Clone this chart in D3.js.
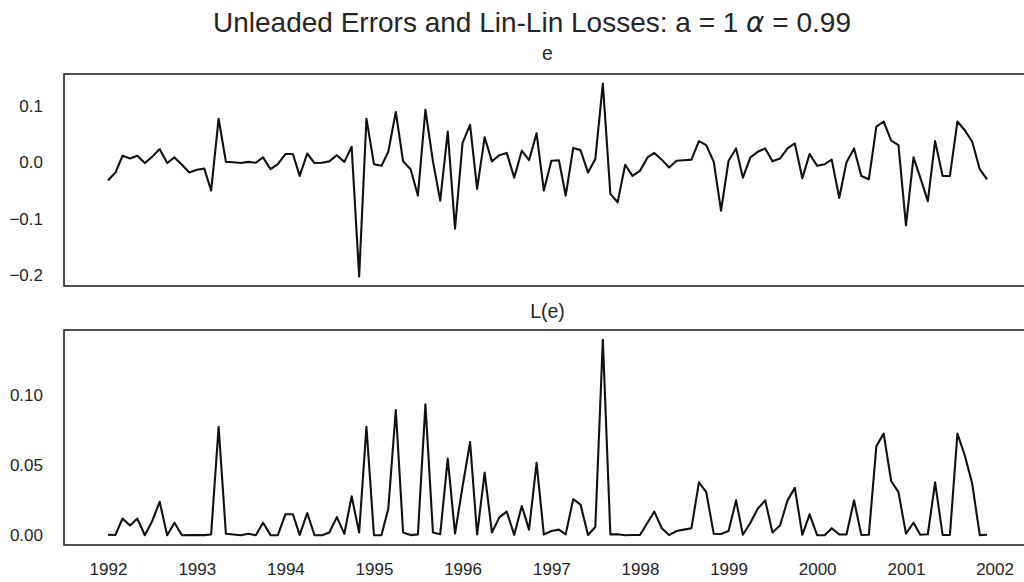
<!DOCTYPE html>
<html>
<head>
<meta charset="utf-8">
<script src="https://cdn.jsdelivr.net/npm/d3@7"></script>
<style>
  html, body { margin: 0; padding: 0; background: #fff; overflow: hidden; }
  svg { display: block; font-family: "Liberation Sans", Arial, sans-serif; }
</style>
</head>
<body>
<svg id="chart" width="1024" height="582"></svg>
<script>
// Monthly forecast errors, Jan 1992 .. Dec 2001
const startYear = 1992;
const startMonth = 0;

const errors = [
  -0.032, -0.018, 0.012, 0.007, 0.012, -0.001, 0.010, 0.024, -0.001, 0.009, -0.004, -0.018,
  -0.013, -0.011, -0.050, 0.078, 0.001, 0.0005, -0.001, 0.001, -0.0005, 0.009, -0.012, -0.003,
  0.015, 0.015, -0.024, 0.016, -0.001, -0.0005, 0.002, 0.013, 0.001, 0.028, -0.203, 0.078,
  -0.003, -0.006, 0.019, 0.090, 0.002, -0.012, -0.059, 0.094, 0.002, -0.068, 0.055, -0.118,
  0.035, 0.067, -0.047, 0.045, 0.002, 0.013, 0.017, -0.027, 0.021, 0.004, 0.052, -0.050,
  0.003, 0.004, -0.059, 0.026, 0.022, -0.018, 0.006, 0.1405, -0.056, -0.071, -0.004, -0.024,
  -0.015, 0.009, 0.017, 0.005, -0.009, 0.003, 0.004, 0.005, 0.038, 0.031, 0.001, -0.086,
  0.003, 0.025, -0.027, 0.009, 0.019, 0.025, 0.002, 0.007, 0.025, 0.034, -0.028, 0.015,
  -0.006, -0.003, 0.005, -0.063, 0.0005, 0.025, -0.024, -0.030, 0.064, 0.073, 0.039, 0.031,
  -0.112, 0.009, -0.027, -0.069, 0.038, -0.024, -0.024, 0.073, 0.057, 0.037, -0.012, -0.030
];

// Lin-lin loss of each error (a = 1, alpha = 0.99)
const losses = [
  0.0003, 0.0002, 0.0119, 0.0069, 0.0119, 0.0000, 0.0099, 0.0238, 0.0000, 0.0089, 0.0000, 0.0002,
  0.0001, 0.0001, 0.0005, 0.0772, 0.0010, 0.0005, 0.0000, 0.0010, 0.0000, 0.0089, 0.0001, 0.0000,
  0.0149, 0.0149, 0.0002, 0.0158, 0.0000, 0.0000, 0.0020, 0.0129, 0.0010, 0.0277, 0.0020, 0.0772,
  0.0000, 0.0001, 0.0188, 0.0891, 0.0020, 0.0001, 0.0006, 0.0931, 0.0020, 0.0007, 0.0545, 0.0012,
  0.0347, 0.0663, 0.0005, 0.0446, 0.0020, 0.0129, 0.0168, 0.0003, 0.0208, 0.0040, 0.0515, 0.0005,
  0.0030, 0.0040, 0.0006, 0.0257, 0.0218, 0.0002, 0.0059, 0.1391, 0.0006, 0.0007, 0.0000, 0.0002,
  0.0002, 0.0089, 0.0168, 0.0050, 0.0001, 0.0030, 0.0040, 0.0050, 0.0376, 0.0307, 0.0010, 0.0009,
  0.0030, 0.0248, 0.0003, 0.0089, 0.0188, 0.0248, 0.0020, 0.0069, 0.0248, 0.0337, 0.0003, 0.0149,
  0.0001, 0.0000, 0.0050, 0.0006, 0.0005, 0.0248, 0.0002, 0.0003, 0.0634, 0.0723, 0.0386, 0.0307,
  0.0011, 0.0089, 0.0003, 0.0007, 0.0376, 0.0002, 0.0002, 0.0723, 0.0564, 0.0366, 0.0001, 0.0003
];

const errorTicks = [0.1, 0.0, -0.1, -0.2];
const lossTicks = [0.10, 0.05, 0.00];

const dates = errors.map((_, i) => new Date(startYear, startMonth + i, 1));

const svg = d3.select("#chart");
const ink = "#262626";
const tickFont = 17;
const subFont = 19.5;

const left = 64, right = 1031;
const panels = [
  { title: "e", values: errors, ticks: errorTicks, fmt: d3.format(".1f"), top: 74, bottom: 286, titleY: 60, showX: false },
  { title: "L(e)", values: losses, ticks: lossTicks, fmt: d3.format(".2f"), top: 330, bottom: 545, titleY: 318, showX: true }
];

// Matplotlib-style 5% margins around the data extent
function padded(ext) {
  const span = ext[1] - ext[0];
  return [ext[0] - span * 0.05, ext[1] + span * 0.05];
}

const tExt = d3.extent(dates).map(d => +d);
const x = d3.scaleTime()
  .domain(padded(tExt).map(t => new Date(t)))
  .range([left, right]);

// Figure title
const title = svg.append("text")
  .attr("x", 532).attr("y", 32)
  .attr("text-anchor", "middle")
  .attr("font-size", 28)
  .attr("fill", ink);
title.append("tspan").text("Unleaded Errors and Lin-Lin Losses: a = 1 ");
title.append("tspan").attr("font-family", "DejaVu Sans").attr("font-style", "italic").text("α");
title.append("tspan").text(" = 0.99");

panels.forEach(p => {
  const y = d3.scaleLinear()
    .domain(padded(d3.extent(p.values)))
    .range([p.bottom, p.top]);

  const g = svg.append("g");

  const clipId = "clip-" + p.top;
  g.append("clipPath").attr("id", clipId)
    .append("rect").attr("x", left).attr("y", p.top)
    .attr("width", right - left).attr("height", p.bottom - p.top);

  // Series line
  g.append("path")
    .datum(p.values)
    .attr("clip-path", `url(#${clipId})`)
    .attr("fill", "none")
    .attr("stroke", "#111")
    .attr("stroke-width", 2.1)
    .attr("stroke-linejoin", "round")
    .attr("d", d3.line().x((d, i) => x(dates[i])).y(d => y(d)));

  // Frame
  g.append("rect")
    .attr("x", left).attr("y", p.top)
    .attr("width", right - left).attr("height", p.bottom - p.top)
    .attr("fill", "none").attr("stroke", ink).attr("stroke-width", 1.6);

  // Y axis labels
  const ya = g.append("g")
    .attr("transform", `translate(${left},0)`)
    .call(d3.axisLeft(y).tickValues(p.ticks).tickSize(0).tickPadding(21)
      .tickFormat(v => p.fmt(v).replace("-", "\u2212")));
  ya.select(".domain").remove();
  ya.selectAll("text").attr("font-size", tickFont).attr("fill", ink)
    .attr("font-family", "Liberation Sans, Arial, sans-serif");

  // Panel title
  g.append("text")
    .attr("x", (left + right) / 2).attr("y", p.titleY)
    .attr("text-anchor", "middle")
    .attr("font-size", subFont).attr("fill", ink)
    .text(p.title);

  if (p.showX) {
    const years = d3.range(1992, 2003).map(yr => new Date(yr, 0, 1));
    const xa = g.append("g")
      .attr("transform", `translate(0,${p.bottom})`)
      .call(d3.axisBottom(x).tickValues(years).tickSize(0).tickPadding(18)
        .tickFormat(d3.timeFormat("%Y")));
    xa.select(".domain").remove();
    xa.selectAll("text").attr("font-size", tickFont).attr("fill", ink)
      .attr("font-family", "Liberation Sans, Arial, sans-serif");
  }
});
</script>
</body>
</html>
